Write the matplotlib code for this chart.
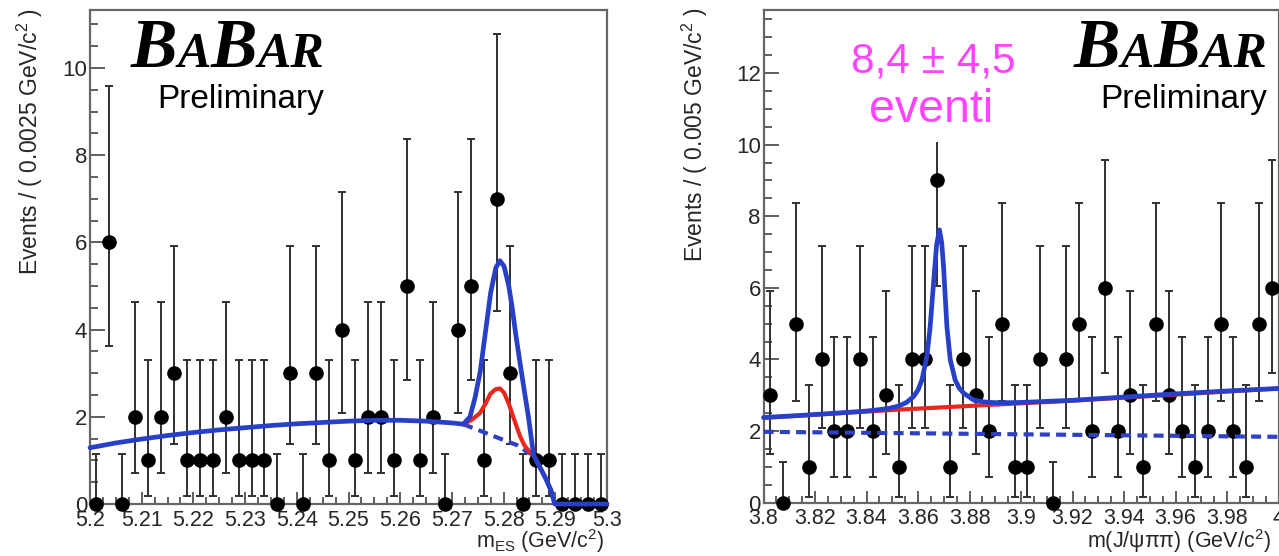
import numpy as np
import matplotlib
matplotlib.use("Agg")
import matplotlib.pyplot as plt
from matplotlib.ticker import MultipleLocator, FuncFormatter
from matplotlib.patches import Rectangle

plt.rcParams['font.family'] = ['Liberation Sans', 'DejaVu Sans']
plt.rcParams['mathtext.fontset'] = 'custom'
plt.rcParams['mathtext.rm'] = 'Liberation Sans'
plt.rcParams['mathtext.it'] = 'Liberation Sans:italic'
plt.rcParams['mathtext.bf'] = 'Liberation Sans:bold'

# ---------------- data ----------------
# left panel: m_ES histogram, 40 bins of 0.0025 GeV from 5.20 to 5.30
mes_range = (5.20, 5.30)
mes_bin = 0.0025
mes_counts = [0, 6, 0, 2, 1, 2, 3, 1, 1, 1,
              2, 1, 1, 1, 0, 3, 0, 3, 1, 4,
              1, 2, 2, 1, 5, 1, 2, 0, 4, 5,
              1, 7, 3, 0, 1, 1, 0, 0, 0, 0]

# right panel: m(J/psi pi pi) histogram, 40 bins of 0.005 GeV from 3.80 to 4.00
mjpp_range = (3.80, 4.00)
mjpp_bin = 0.005
mjpp_counts = [3, 0, 5, 1, 4, 2, 2, 4, 2, 3,
               1, 4, 4, 9, 1, 4, 3, 2, 5, 1,
               1, 4, 0, 4, 5, 2, 6, 2, 3, 1,
               5, 3, 2, 1, 2, 5, 2, 1, 5, 6]

# 68% Poisson intervals used for the error bars (per count)
pois_lo = {0: 0.0, 1: 0.173, 2: 0.708, 3: 1.367, 4: 2.086, 5: 2.840,
           6: 3.620, 7: 4.419, 9: 6.057}
pois_hi = {0: 1.148, 1: 3.300, 2: 4.638, 3: 5.918, 4: 7.163, 5: 8.382,
           6: 9.584, 7: 10.771, 9: 13.15}

# fit curves (left)
mes_total_x = [5.200, 5.205, 5.210, 5.215, 5.220, 5.225, 5.230, 5.235, 5.240,
               5.245, 5.250, 5.255, 5.260, 5.265, 5.270, 5.2722, 5.2735, 5.2745,
               5.2755, 5.2765, 5.2775, 5.2785, 5.2793, 5.2801, 5.2810, 5.2816,
               5.2824, 5.2832, 5.2840, 5.2848, 5.2858, 5.2870, 5.2883, 5.2892,
               5.2899, 5.3000]
mes_total_y = [1.29, 1.40, 1.49, 1.57, 1.64, 1.70, 1.75, 1.80, 1.84,
               1.87, 1.90, 1.92, 1.92, 1.90, 1.86, 1.83, 2.00, 2.45,
               3.05, 3.95, 4.85, 5.42, 5.58, 5.45, 5.00, 4.55,
               3.85, 3.22, 2.60, 2.00, 1.12, 0.85, 0.55, 0.30,
               0.00, 0.00]
mes_red_x = [5.2722, 5.2737, 5.2754, 5.2765, 5.2774, 5.2784, 5.2793, 5.2801,
             5.2810, 5.2823, 5.2832, 5.2840, 5.2850, 5.2858, 5.2870, 5.2883,
             5.2892, 5.2899]
mes_red_y = [1.83, 1.92, 2.08, 2.30, 2.52, 2.63, 2.65, 2.55,
             2.30, 1.85, 1.55, 1.35, 1.20, 1.12, 0.85, 0.55,
             0.30, 0.00]
mes_bkg_x = [5.2722, 5.2761, 5.2793, 5.2826, 5.2845, 5.2858, 5.2870, 5.2883,
             5.2892, 5.2899]
mes_bkg_y = [1.83, 1.65, 1.50, 1.35, 1.20, 1.12, 0.85, 0.55, 0.30, 0.00]

# fit curves (right)
mjpp_total_x = [3.800, 3.815, 3.830, 3.840, 3.845, 3.8491, 3.8525, 3.8555,
                3.8582, 3.8600, 3.8615, 3.8634, 3.8647, 3.8660, 3.8672,
                3.8683, 3.8692, 3.8699, 3.8712, 3.8725, 3.8744, 3.8760,
                3.8777, 3.8815, 3.8850, 3.8880, 3.8920, 3.9000, 3.9200,
                3.9400, 3.9600, 3.9800, 4.0000]
mjpp_total_y = [2.38, 2.44, 2.51, 2.56, 2.60, 2.64, 2.70, 2.80,
                2.96, 3.15, 3.43, 4.08, 4.92, 6.13, 7.20,
                7.62, 7.25, 6.59, 4.92, 3.99, 3.43, 3.20,
                3.06, 2.87, 2.82, 2.80, 2.79, 2.80, 2.86,
                2.95, 3.04, 3.12, 3.19]
mjpp_red_x = [3.800, 3.850, 3.890, 3.920, 3.960, 4.000]
mjpp_red_y = [2.37, 2.59, 2.74, 2.85, 3.02, 3.19]
mjpp_bkg_x = [3.800, 4.000]
mjpp_bkg_y = [1.98, 1.84]

signal_text = ["8,4 \u00b1 4,5", "eventi"]

# ---------------- styling ----------------
BLUE = '#2840c8'
RED = '#e8281e'
DBLUE = '#3040c4'
MAG = '#ff44ff'
TXT = '#262626'
W, H = 1279, 556

fig = plt.figure(figsize=(W / 100, H / 100), dpi=100)
fig.patch.set_facecolor('white')


def rect(l, t, r, b):
    return [l / W, 1 - b / H, (r - l) / W, (b - t) / H]


axL = fig.add_axes(rect(90, 10, 607, 504))
axR = fig.add_axes(rect(763.6, 10, 1278.5, 502.7))


def fmt_tick(v, p):
    return f"{v:.2f}".rstrip('0').rstrip('.')


def style_axes(ax, xlim, ylim, xmaj, xmin):
    ax.set_xlim(*xlim)
    ax.set_ylim(*ylim)
    ax.xaxis.set_major_locator(MultipleLocator(xmaj))
    ax.xaxis.set_minor_locator(MultipleLocator(xmin))
    ax.yaxis.set_major_locator(MultipleLocator(2))
    ax.yaxis.set_minor_locator(MultipleLocator(0.5))
    ax.xaxis.set_major_formatter(FuncFormatter(fmt_tick))
    ax.yaxis.set_major_formatter(FuncFormatter(lambda v, p: f"{v:.0f}"))
    ax.tick_params(axis='both', which='both', direction='in', top=False,
                   right=False, color='#444444', width=1.2)
    ax.tick_params(axis='y', which='major', length=11, pad=2,
                   labelsize=16, labelcolor=TXT)
    ax.tick_params(axis='y', which='minor', length=6)
    ax.tick_params(axis='x', which='major', length=9, pad=4,
                   labelsize=15.5, labelcolor=TXT)
    ax.tick_params(axis='x', which='minor', length=5)
    for sp in ax.spines.values():
        sp.set_color('#666666')
        sp.set_linewidth(1.6)


def draw_hist(ax, rng, width, counts):
    counts = np.asarray(counts, dtype=float)
    centers = rng[0] + width * (np.arange(len(counts)) + 0.5)
    lo = np.array([pois_lo[int(n)] for n in counts])
    hi = np.array([pois_hi[int(n)] for n in counts])
    cont = ax.errorbar(centers, counts, yerr=[counts - lo, hi - counts],
                       fmt='o', ms=9.5, mfc='black', mec='black',
                       ecolor='#303030', elinewidth=1.4, capsize=2.6,
                       capthick=1.4, zorder=3)
    for a in cont.get_children():
        a.set_clip_on(False)


def curve(ax, x, y, color, lw, ls='-', z=4):
    line, = ax.plot(x, y, color=color, lw=lw, ls=ls, zorder=z,
                    clip_on=False, solid_capstyle='round',
                    solid_joinstyle='round')
    if ls == '--':
        line.set_dashes((2.4, 1.5))
    return line


# left panel
style_axes(axL, mes_range, (0, 11.33), 0.01, 0.0025)
draw_hist(axL, mes_range, mes_bin, mes_counts)
curve(axL, mes_bkg_x, mes_bkg_y, DBLUE, 3.0, '--', 4)
curve(axL, mes_red_x, mes_red_y, RED, 3.0, '-', 5)
curve(axL, mes_total_x, mes_total_y, BLUE, 3.4, '-', 6)

# right panel
style_axes(axR, mjpp_range, (0, 13.76), 0.02, 0.005)
draw_hist(axR, mjpp_range, mjpp_bin, mjpp_counts)
curve(axR, mjpp_bkg_x, mjpp_bkg_y, DBLUE, 3.0, '--', 4)
curve(axR, mjpp_red_x, mjpp_red_y, RED, 3.0, '-', 5)
curve(axR, mjpp_total_x, mjpp_total_y, BLUE, 3.4, '-', 6)

# white box behind the signal-yield text
axR.add_patch(Rectangle((3.830, 10.08), 0.072, 3.55, facecolor='white',
                        edgecolor='none', zorder=7))

# axis titles
fig.text(30 / W, 1 - 8 / H, "Events / ( 0.0025 GeV/c$^{2}$ )", rotation=90,
         ha='center', va='top', fontsize=16.5, color=TXT)
fig.text(695 / W, 1 - 8 / H, "Events / ( 0.005 GeV/c$^{2}$ )", rotation=90,
         ha='center', va='top', fontsize=16.5, color=TXT)
fig.text(605 / W, 1 - 555 / H, "m$_{\\mathrm{ES}}$ (GeV/c$^{2}$)",
         ha='right', va='bottom', fontsize=15.5, color=TXT)
fig.text(1271 / W, 1 - 555 / H, "m(J/\u03c8\u03c0\u03c0) (GeV/c$^{2}$)",
         ha='right', va='bottom', fontsize=15.5, color=TXT)

# signal yield
fig.text(933 / W, 1 - 72 / H, signal_text[0], ha='center', va='baseline',
         fontsize=30.5, color=MAG, zorder=10)
fig.text(931 / W, 1 - 122 / H, signal_text[1], ha='center', va='baseline',
         fontsize=33.5, color=MAG, zorder=10)

# BaBar logos
renderer = fig.canvas.get_renderer()
big = dict(family='Liberation Serif', weight='bold', style='italic',
           fontsize=50, color='black')
small = dict(family='Liberation Serif', weight='bold', style='italic',
             fontsize=36, color='black')


def babar(right_px, base_px, prelim_base_px):
    parts = [('B', big), ('A', small), ('B', big), ('AR', small)]
    texts = []
    widths = []
    for s, pr in parts:
        t = fig.text(0, 1 - base_px / H, s, ha='left', va='baseline', **pr)
        widths.append(t.get_window_extent(renderer).width)
        texts.append(t)
    total = sum(widths)
    x = right_px - total
    for t, w in zip(texts, widths):
        t.set_x(x / W)
        x += w
    fig.text(right_px / W, 1 - prelim_base_px / H, "Preliminary",
             ha='right', va='baseline', fontsize=24, color='black')


babar(324, 67, 108)
babar(1267, 67, 108)

fig.savefig("out.png", dpi=100, facecolor='white')
